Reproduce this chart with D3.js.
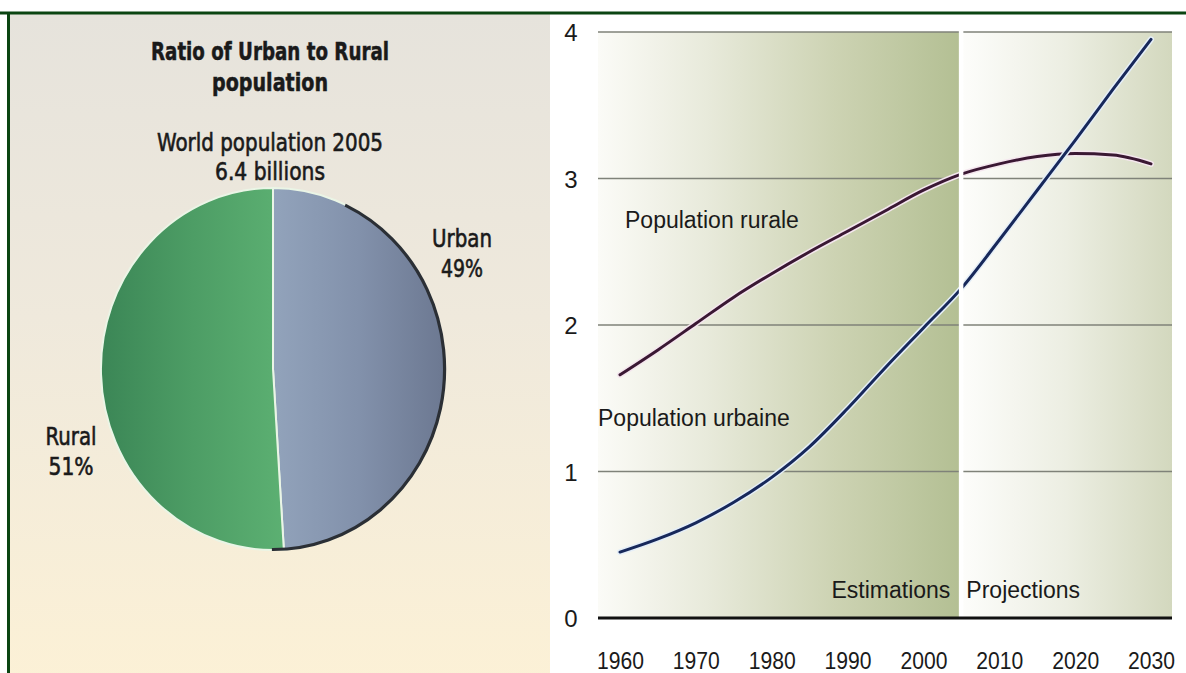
<!DOCTYPE html>
<html>
<head>
<meta charset="utf-8">
<script src="https://cdn.jsdelivr.net/npm/d3@7"></script>
<style>
  html, body { margin: 0; padding: 0; background: #ffffff; }
  svg { display: block; }
</style>
</head>
<body>
<svg id="chart" width="1186" height="673"></svg>
<script>
// ---- data ----
const pieCategories = ["Urban", "Rural"];
const pieShares = [49, 51];
const pieTitle = ["Ratio of Urban to Rural", "population"];
const pieSubtitle = ["World population 2005", "6.4 billions"];

const years = [1960, 1965, 1970, 1975, 1980, 1985, 1990, 1995, 2000, 2005, 2010, 2015, 2020, 2025, 2030];
const rural = [1.66, 1.83, 2.01, 2.19, 2.35, 2.50, 2.64, 2.78, 2.92, 3.03, 3.10, 3.15, 3.17, 3.16, 3.10];
const urban = [0.45, 0.54, 0.65, 0.79, 0.96, 1.17, 1.43, 1.71, 1.98, 2.25, 2.58, 2.92, 3.26, 3.61, 3.95];
const xTicks = [1960, 1970, 1980, 1990, 2000, 2010, 2020, 2030];
const yTicks = [0, 1, 2, 3, 4];
const splitYear = 2005;

const svg = d3.select("#chart");
const defs = svg.append("defs");

const narrow = "'Liberation Sans Narrow', 'Arial Narrow', 'DejaVu Sans Condensed', sans-serif";
const sans = "'Liberation Sans', Arial, Helvetica, sans-serif";

// ---- gradients ----
function linGrad(id, x1, y1, x2, y2, stops) {
  const g = defs.append("linearGradient").attr("id", id)
    .attr("x1", x1).attr("y1", y1).attr("x2", x2).attr("y2", y2);
  stops.forEach(([o, c]) => g.append("stop").attr("offset", o).attr("stop-color", c));
}
linGrad("leftBg", 0, 0, 0, 1, [[0, "#e6e3dc"], [0.45, "#efe9dc"], [1, "#fcf1d6"]]);
linGrad("estBg", 0, 0, 1, 0, [[0, "#fbfbf7"], [0.3, "#e8eadb"], [0.65, "#cdd3b3"], [1, "#b3bf93"]]);
linGrad("projBg", 0, 0, 1, 0, [[0, "#fdfdfb"], [0.5, "#eceee2"], [1, "#d3d8be"]]);
linGrad("ruralFill", 0, 0, 1, 0, [[0, "#3b8656"], [0.5, "#4d9d65"], [1, "#5cb072"]]);
linGrad("urbanFill", 0, 0, 1, 0, [[0, "#92a3bb"], [0.5, "#8291ab"], [1, "#6c7891"]]);

// ---- frame and panel backgrounds ----
svg.append("rect").attr("x", 9).attr("y", 14).attr("width", 541).attr("height", 673)
  .attr("fill", "url(#leftBg)");
svg.append("line").attr("x1", 0).attr("x2", 1186).attr("y1", 13).attr("y2", 13)
  .attr("stroke", "#0b4512").attr("stroke-width", 3);
svg.append("line").attr("x1", 8.5).attr("x2", 8.5).attr("y1", 12).attr("y2", 673)
  .attr("stroke", "#0b4512").attr("stroke-width", 3);

// ---- left panel: pie ----
const pieCx = 273, pieCy = 369, pieRx = 172, pieRy = 181;
const left = svg.append("g");

// condensed heading lines, fitted to fixed widths
const titleWidths = [238, 116];
left.selectAll("text.title").data(pieTitle).join("text")
  .attr("x", 270).attr("y", (d, i) => 51 + i * 31)
  .attr("text-anchor", "middle").attr("dominant-baseline", "central")
  .attr("font-family", narrow).attr("font-weight", "bold").attr("font-size", 25)
  .attr("textLength", (d, i) => titleWidths[i]).attr("lengthAdjust", "spacingAndGlyphs")
  .attr("stroke", "#1a1a1a").attr("stroke-width", 0.5)
  .attr("fill", "#1a1a1a").text(d => d);

const subWidths = [226, 110];
left.selectAll("text.sub").data(pieSubtitle).join("text")
  .attr("x", 270).attr("y", (d, i) => 142 + i * 29)
  .attr("text-anchor", "middle").attr("dominant-baseline", "central")
  .attr("font-family", narrow).attr("font-size", 25)
  .attr("textLength", (d, i) => subWidths[i]).attr("lengthAdjust", "spacingAndGlyphs")
  .attr("stroke", "#1a1a1a").attr("stroke-width", 0.6)
  .attr("fill", "#1a1a1a").text(d => d);

const pie = d3.pie().sort(null).value(d => d.v);
const arcs = pie(pieCategories.map((c, i) => ({ c, v: pieShares[i] })));
const arc = d3.arc().innerRadius(0).outerRadius(1);

const pieG = left.append("g")
  .attr("transform", `translate(${pieCx},${pieCy}) scale(${pieRx},${pieRy})`);
pieG.selectAll("path.slice").data(arcs).join("path")
  .attr("d", arc)
  .attr("fill", d => d.data.c === "Urban" ? "url(#urbanFill)" : "url(#ruralFill)")
  .attr("stroke", "#eaf5e6").attr("stroke-width", 2)
  .attr("vector-effect", "non-scaling-stroke");
// darker rim on the lower right edge
pieG.append("path")
  .attr("d", d3.arc().innerRadius(0.995).outerRadius(1.0)({ startAngle: Math.PI * 0.14, endAngle: Math.PI * 1.0 }))
  .attr("fill", "none").attr("stroke", "#2b2f35").attr("stroke-width", 2.2)
  .attr("vector-effect", "non-scaling-stroke");

const pieLabelPos = { Urban: [462, 238], Rural: [71, 436] };
const pieLabelWidths = { Urban: [60, 42], Rural: [51, 45] };
arcs.forEach(a => {
  const [lx, ly] = pieLabelPos[a.data.c];
  const [w1, w2] = pieLabelWidths[a.data.c];
  const lines = [a.data.c, a.data.v + "%"];
  lines.forEach((s, k) => {
    left.append("text").attr("x", lx).attr("y", ly + k * 30)
      .attr("text-anchor", "middle").attr("dominant-baseline", "central")
      .attr("font-family", narrow).attr("font-size", 25)
      .attr("textLength", k === 0 ? w1 : w2).attr("lengthAdjust", "spacingAndGlyphs")
      .attr("stroke", "#1a1a1a").attr("stroke-width", 0.6)
      .attr("fill", "#1a1a1a").text(s);
  });
});

// ---- right panel: line chart ----
const x = d3.scaleLinear().domain([1960, 2030]).range([620, 1151]);
const y = d3.scaleLinear().domain([0, 4]).range([618, 32]);
const plotL = 598, plotR = 1172;
const xs = x(splitYear);

const right = svg.append("g");
right.append("rect").attr("x", plotL).attr("y", y(4)).attr("width", xs - plotL)
  .attr("height", y(0) - y(4)).attr("fill", "url(#estBg)");
right.append("rect").attr("x", xs).attr("y", y(4)).attr("width", plotR - xs)
  .attr("height", y(0) - y(4)).attr("fill", "url(#projBg)");

// grid lines
right.selectAll("line.grid").data(yTicks.filter(v => v > 0)).join("line")
  .attr("x1", plotL).attr("x2", plotR).attr("y1", d => y(d)).attr("y2", d => y(d))
  .attr("stroke", "#7f8279").attr("stroke-width", 1.6);

// series lines with a light halo
const line = d3.line().x((d, i) => x(years[i])).y(d => y(d)).curve(d3.curveMonotoneX);
const series = [
  { name: "rural", values: rural, color: "#3a1833", halo: "#f4e6ee" },
  { name: "urban", values: urban, color: "#17285a", halo: "#e4eef8" }
];
series.forEach(s => {
  right.append("path").attr("d", line(s.values)).attr("fill", "none")
    .attr("stroke", s.halo).attr("stroke-width", 6).attr("stroke-linecap", "round");
  right.append("path").attr("d", line(s.values)).attr("fill", "none")
    .attr("stroke", s.color).attr("stroke-width", 3).attr("stroke-linecap", "round");
});

// white divider between estimates and projections
right.append("rect").attr("x", xs - 2.5).attr("y", y(4) - 1).attr("width", 4.5)
  .attr("height", y(0) - y(4) + 1).attr("fill", "#ffffff");

// zero axis
right.append("line").attr("x1", plotL).attr("x2", plotR).attr("y1", y(0)).attr("y2", y(0))
  .attr("stroke", "#111111").attr("stroke-width", 3.2);

// axes labels
const xAxis = d3.axisBottom(x).tickValues(xTicks).tickSize(0).tickPadding(0).tickFormat(d3.format("d"));
const gx = right.append("g").attr("transform", "translate(0,660)").call(xAxis);
gx.select(".domain").remove();
gx.selectAll("text").attr("font-family", sans).attr("font-size", 24).attr("fill", "#1a1a1a")
  .attr("textLength", 47).attr("lengthAdjust", "spacingAndGlyphs")
  .attr("dy", null).attr("dominant-baseline", "central");

const yAxis = d3.axisLeft(y).tickValues(yTicks).tickSize(0).tickPadding(0).tickFormat(d3.format("d"));
const gy = right.append("g").attr("transform", "translate(571,0)").call(yAxis);
gy.select(".domain").remove();
gy.selectAll("text").attr("font-family", sans).attr("font-size", 24).attr("fill", "#1a1a1a")
  .attr("text-anchor", "middle").attr("dy", null).attr("dominant-baseline", "central");

// annotations
const ann = [
  { t: "Population rurale", x: 625, y: 220, a: "start" },
  { t: "Population urbaine", x: 598, y: 418, a: "start" },
  { t: "Estimations", x: xs - 11, y: 590, a: "end" },
  { t: "Projections", x: xs + 5, y: 590, a: "start" }
];
right.selectAll("text.ann").data(ann).join("text")
  .attr("x", d => d.x).attr("y", d => d.y).attr("text-anchor", d => d.a)
  .attr("dominant-baseline", "central")
  .attr("font-family", sans).attr("font-size", 23).attr("fill", "#1a1a1a")
  .text(d => d.t);
</script>
</body>
</html>
